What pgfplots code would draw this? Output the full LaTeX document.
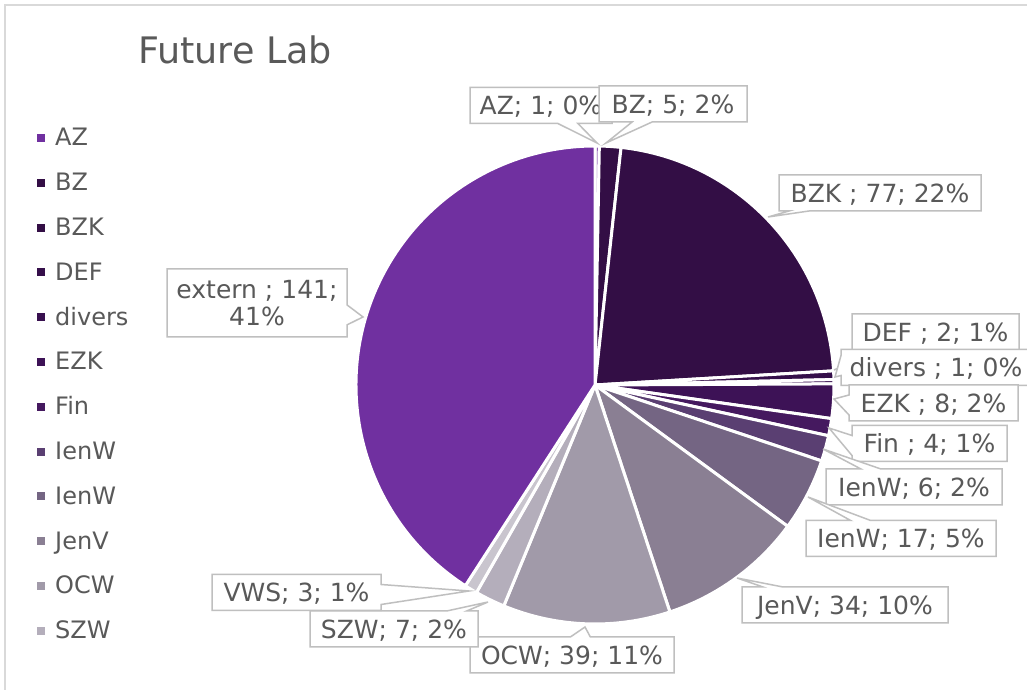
\documentclass[border=0pt]{standalone}
\usepackage{pgfplots}
\pgfplotsset{compat=1.18}
\usepackage{pgfplotstable}
\usetikzlibrary{shapes.callouts}
\usepackage{fontspec}
\setmainfont{DejaVu Sans}

\definecolor{c0}{HTML}{7030A0}
\definecolor{c1}{HTML}{330E45}
\definecolor{c2}{HTML}{330E45}
\definecolor{c3}{HTML}{350F4A}
\definecolor{c4}{HTML}{38104F}
\definecolor{c5}{HTML}{3D1256}
\definecolor{c6}{HTML}{45195F}
\definecolor{c7}{HTML}{5A3F72}
\definecolor{c8}{HTML}{746583}
\definecolor{c9}{HTML}{8A7F93}
\definecolor{c10}{HTML}{A19AA9}
\definecolor{c11}{HTML}{B4AEBB}
\definecolor{c12}{HTML}{C9C5CE}
\definecolor{c13}{HTML}{7030A0}
\definecolor{txt}{HTML}{595959}
\definecolor{labgray}{HTML}{BFBFBF}
\definecolor{bordergray}{HTML}{D9D9D9}

\pgfplotstableread{
name value
AZ 1
BZ 5
BZK 77
DEF 2
divers 1
EZK 8
Fin 4
IenW 6
IenW 17
JenV 34
OCW 39
SZW 7
VWS 3
extern 141
}\piedata

\newcommand\lbl[6]{%
  \node[lab, minimum width=#3pt, callout absolute pointer={(axis cs:#4,#5)}] at (axis cs:#1,#2) {#6};}

\begin{document}
\begin{tikzpicture}[
  lab/.style={rectangle callout, draw=labgray, line width=1.5pt, fill=white,
    text=txt, font=\fontsize{25}{29}\selectfont, minimum height=36pt,
    inner xsep=0pt, inner ysep=0pt, text height=18.5pt, text depth=0pt,
    callout pointer width=20pt}]
% totals and angles
\gdef\total{0}
\pgfplotsforeachungrouped \i in {0,...,13}{%
  \pgfplotstablegetelem{\i}{value}\of\piedata
  \pgfmathsetmacro\tnew{\total+\pgfplotsretval}%
  \xdef\total{\tnew}%
}
\gdef\cum{0}
\pgfplotsforeachungrouped \i in {0,...,13}{%
  \pgfplotstablegetelem{\i}{value}\of\piedata
  \pgfmathsetmacro\sa{90-(\cum/\total)*360}%
  \pgfmathsetmacro\cumnew{\cum+\pgfplotsretval}%
  \pgfmathsetmacro\ea{90-(\cumnew/\total)*360}%
  \expandafter\xdef\csname sa\i\endcsname{\sa}%
  \expandafter\xdef\csname ea\i\endcsname{\ea}%
  \xdef\cum{\cumnew}%
}
\begin{axis}[x=1pt, y=1pt, xmin=0, xmax=1027, ymin=0, ymax=690,
  hide axis, clip=false]
\fill[white] (axis cs:0,0) rectangle (axis cs:1027,690);
\draw[bordergray, line width=2pt] (axis cs:5,0) -- (axis cs:5,685) -- (axis cs:1030,685);
% title
\node[anchor=base west, inner sep=0pt, font=\fontsize{36.5}{40}\selectfont, text=txt] at (axis cs:138,626) {Future Lab};
% pie
\pgfplotsinvokeforeach{0,...,13}{%
  \edef\tmp{\noexpand\fill[c#1, draw=white, line width=3pt, line join=round]
    (axis cs:595,305) -- ++(\csname sa#1\endcsname:239pt)
    arc[start angle=\csname sa#1\endcsname, end angle=\csname ea#1\endcsname, radius=239pt] -- cycle;}%
  \tmp
}
% legend
\pgfplotsinvokeforeach{0,...,11}{%
  \pgfplotstablegetelem{#1}{name}\of\piedata
  \let\lname\pgfplotsretval
  \pgfmathsetmacro\by{690-146-44.8*#1}%
  \pgfmathsetmacro\mlo{\by+4}%
  \pgfmathsetmacro\mhi{\by+12}%
  \edef\tmp{\noexpand\fill[c#1] (axis cs:37,\mlo) rectangle (axis cs:45,\mhi);
    \noexpand\node[anchor=base west, inner sep=0pt, text=txt, font=\noexpand\fontsize{24}{28}\noexpand\selectfont] at (axis cs:55,\by) {\lname};}%
  \tmp
}
% data labels
\lbl{541}{584.5}{142}{597}{547}{AZ; 1; 0\%}
\lbl{673}{586}{148}{606}{547}{BZ; 5; 2\%}
\lbl{880}{497}{202}{768}{473}{BZK ; 77; 22\%}
\lbl{935.5}{358}{167}{834}{320}{DEF ; 2; 1\%}
\lbl{936}{322.5}{190}{835}{313}{divers ; 1; 0\%}
\lbl{933.5}{287}{169}{834}{291}{EZK ; 8; 2\%}
\lbl{929.5}{246.5}{155}{829}{262}{Fin ; 4; 1\%}
\lbl{914}{203}{176}{823}{241}{IenW; 6; 2\%}
\lbl{901}{151.5}{190}{808}{193}{IenW; 17; 5\%}
\lbl{845}{85}{206}{737}{112}{JenV; 34; 10\%}
\lbl{572}{35}{204}{585}{63}{OCW; 39; 11\%}
\lbl{394}{61}{168}{488}{88}{SZW; 7; 2\%}
\lbl{296.5}{97.5}{169}{469}{99}{VWS; 3; 1\%}
\node[rectangle callout, draw=labgray, line width=1.5pt, fill=white,
    text=txt, font=\fontsize{25}{27}\selectfont, align=center,
    minimum width=180pt, minimum height=68pt, inner sep=0pt,
    callout pointer width=20pt, callout absolute pointer={(axis cs:363,373)}]
    at (axis cs:257,387) {extern ; 141;\\41\%};
\end{axis}
\pgfresetboundingbox
\path[use as bounding box] (current axis.south west) rectangle (current axis.north east);
\end{tikzpicture}
\end{document}
